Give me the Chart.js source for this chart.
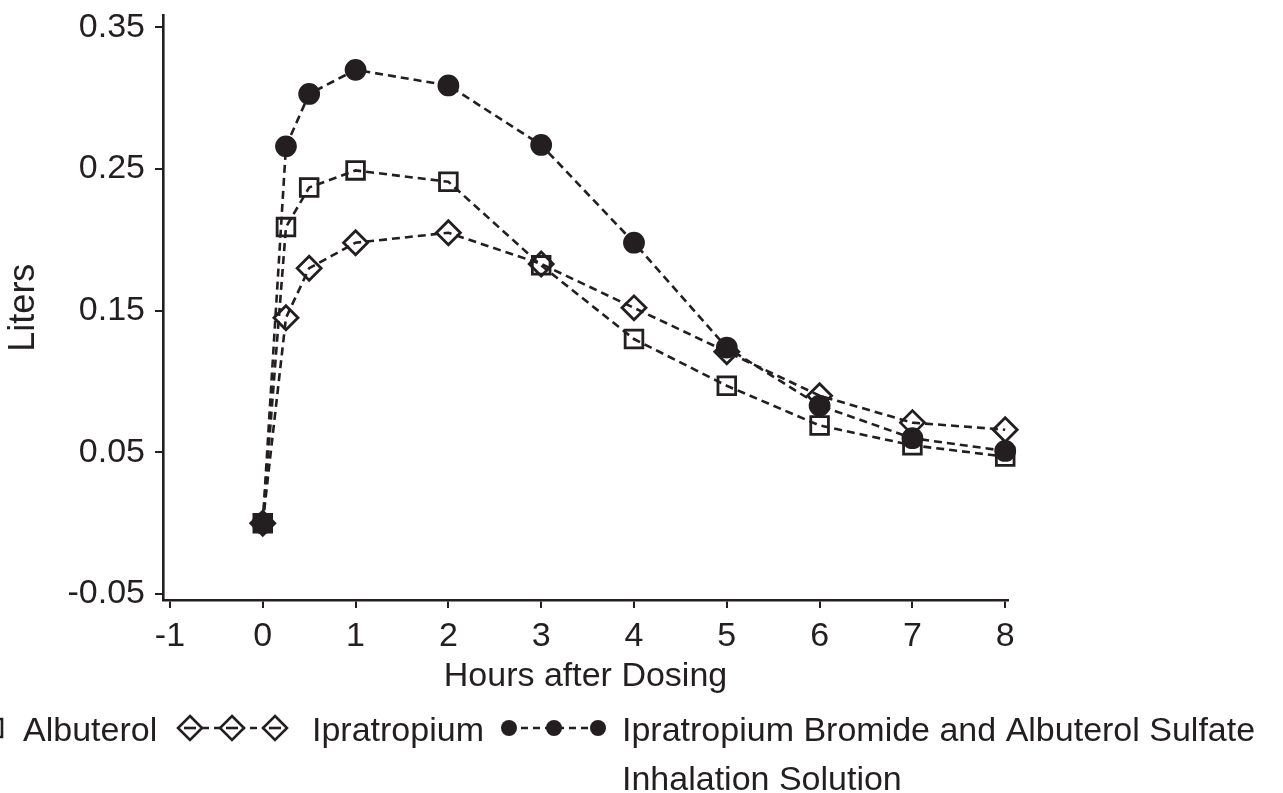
<!DOCTYPE html>
<html>
<head>
<meta charset="utf-8">
<script src="https://cdn.jsdelivr.net/npm/chart.js@4/dist/chart.umd.min.js"></script>
<style>
  html, body { margin: 0; padding: 0; background: #ffffff; }
  #wrap { width: 1283px; height: 793px; position: relative; }
</style>
</head>
<body>
<div id="wrap"><canvas id="c" width="1283" height="793"></canvas></div>
<script>
// ---- data ----
const hours = [0, 0.25, 0.5, 1, 2, 3, 4, 5, 6, 7, 8];
const albuterol = [0, 0.209, 0.237, 0.249, 0.241, 0.182, 0.130, 0.097, 0.069, 0.055, 0.047];
const ipratropium = [0, 0.145, 0.180, 0.198, 0.205, 0.183, 0.152, 0.121, 0.090, 0.071, 0.066];
const combination = [0, 0.266, 0.303, 0.320, 0.309, 0.267, 0.198, 0.124, 0.083, 0.060, 0.051];
const xTicks = [-1, 0, 1, 2, 3, 4, 5, 6, 7, 8];
const yTicks = [-0.05, 0.05, 0.15, 0.25, 0.35];
const yTickLabels = ['-0.05', '0.05', '0.15', '0.25', '0.35'];
const seriesNames = [
  ['Albuterol'],
  ['Ipratropium'],
  ['Ipratropium Bromide and Albuterol Sulfate', 'Inhalation Solution']
];
const xTitle = 'Hours after Dosing';
const yTitle = 'Liters';

// ---- styles ----
const INK = '#231f20';
const FONT = '"Liberation Sans", Arial, sans-serif';
const FS = 34;
const DASH = [8, 5];

function pts(vals) { return hours.map((h, i) => ({ x: h, y: vals[i] })); }

const markerStyles = [
  { pointStyle: 'rect', radius: 12.5, fill: 'rgba(0,0,0,0)' },
  { pointStyle: 'rectRot', radius: 12, fill: 'rgba(0,0,0,0)' },
  { pointStyle: 'circle', radius: 9.5, fill: INK }
];
const seriesData = [albuterol, ipratropium, combination];

const datasets = seriesData.map((vals, i) => ({
  label: seriesNames[i].join(' '),
  data: pts(vals),
  borderColor: INK,
  borderWidth: 2.6,
  borderDash: DASH,
  pointStyle: markerStyles[i].pointStyle,
  pointRadius: markerStyles[i].radius,
  pointHoverRadius: markerStyles[i].radius,
  pointBackgroundColor: markerStyles[i].fill,
  pointBorderColor: INK,
  pointBorderWidth: 2.8,
  fill: false,
  tension: 0,
  clip: false
}));

function drawSymbol(ctx, style, x, y) {
  ctx.save();
  ctx.setLineDash([]);
  ctx.strokeStyle = INK;
  ctx.lineWidth = 2.6;
  ctx.beginPath();
  if (style === 'rect') {
    ctx.rect(x - 9, y - 9, 18, 18);
    ctx.fillStyle = '#ffffff'; ctx.fill(); ctx.stroke();
    ctx.beginPath(); ctx.moveTo(x - 5, y); ctx.lineTo(x + 5, y); ctx.stroke();
  } else if (style === 'rectRot') {
    ctx.moveTo(x, y - 12); ctx.lineTo(x + 12, y); ctx.lineTo(x, y + 12); ctx.lineTo(x - 12, y); ctx.closePath();
    ctx.fillStyle = '#ffffff'; ctx.fill(); ctx.stroke();
    ctx.beginPath(); ctx.moveTo(x - 6, y); ctx.lineTo(x + 6, y); ctx.stroke();
  } else {
    ctx.arc(x, y, 8, 0, Math.PI * 2);
    ctx.fillStyle = INK; ctx.fill();
  }
  ctx.restore();
}

const legendPlugin = {
  id: 'customLegend',
  afterDraw(chart) {
    const ctx = chart.ctx;
    const symY = 728;
    const base1 = 741, lineStep = 49;
    const items = [
      { sym: [-93, -50, -7], textX: 23 },
      { sym: [190, 232, 275], textX: 312 },
      { sym: [509, 554, 598], textX: 622 }
    ];
    ctx.save();
    items.forEach((it, i) => {
      ctx.save();
      ctx.strokeStyle = INK; ctx.lineWidth = 2.4; ctx.setLineDash([7, 5]);
      ctx.beginPath(); ctx.moveTo(it.sym[0], symY); ctx.lineTo(it.sym[2], symY); ctx.stroke();
      ctx.restore();
      it.sym.forEach(sx => drawSymbol(ctx, markerStyles[i].pointStyle, sx, symY));
      ctx.fillStyle = INK;
      ctx.font = FS + 'px ' + FONT;
      ctx.textAlign = 'left';
      ctx.textBaseline = 'alphabetic';
      seriesNames[i].forEach((line, k) => ctx.fillText(line, it.textX, base1 + k * lineStep));
    });
    ctx.restore();
  }
};

new Chart(document.getElementById('c'), {
  type: 'line',
  data: { datasets },
  plugins: [legendPlugin],
  options: {
    responsive: false,
    animation: false,
    events: [],
    layout: { padding: { left: 0, top: 14, right: 275, bottom: 93 } },
    plugins: { legend: { display: false }, tooltip: { enabled: false }, title: { display: false } },
    scales: {
      x: {
        type: 'linear',
        min: -1.075,
        max: 8.03,
        afterBuildTicks(scale) { scale.ticks = xTicks.map(v => ({ value: v })); },
        afterFit(scale) { scale.height = 100; scale.paddingLeft = 0; scale.paddingRight = 0; },
        ticks: {
          color: INK,
          font: { family: FONT, size: FS },
          padding: 8,
          maxRotation: 0,
          autoSkip: false,
          callback: (v) => String(v)
        },
        grid: { display: true, drawOnChartArea: false, drawTicks: true, tickLength: 8, color: INK, lineWidth: 2 },
        border: { display: true, color: INK, width: 2.6 },
        title: { display: true, text: xTitle, color: INK, font: { family: FONT, size: FS }, padding: { top: 0, bottom: 3 } }
      },
      y: {
        type: 'linear',
        min: -0.0542,
        max: 0.3585,
        afterBuildTicks(scale) { scale.ticks = yTicks.map(v => ({ value: v })); },
        afterFit(scale) { scale.width = 163; scale.paddingTop = 0; scale.paddingBottom = 0; },
        ticks: {
          color: INK,
          font: { family: FONT, size: FS },
          padding: 10,
          autoSkip: false,
          callback: (v) => { const i = yTicks.findIndex(t => Math.abs(t - v) < 1e-9); return i >= 0 ? yTickLabels[i] : ''; }
        },
        grid: { display: true, drawOnChartArea: false, drawTicks: true, tickLength: 8, color: INK, lineWidth: 2 },
        border: { display: true, color: INK, width: 2.6 },
        title: { display: true, text: yTitle, color: INK, font: { family: FONT, size: FS + 2 }, padding: { top: 2, bottom: 0 } }
      }
    }
  }
});
</script>
</body>
</html>
